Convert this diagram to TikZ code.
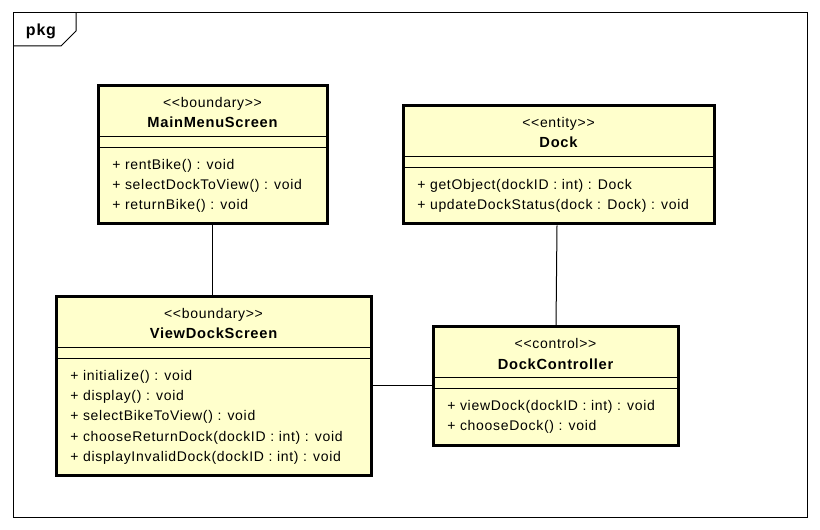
\documentclass[tikz,border=0pt]{standalone}
\usepackage{fontspec}
\newfontfamily\umlfont{Liberation Sans}[LetterSpace=5]
\usetikzlibrary{fit,calc}
\definecolor{classfill}{HTML}{FFFFCC}
\tikzset{
  classbox/.style={rectangle, draw=black, line width=2.25pt, fill=classfill, inner sep=0pt},
  divider/.style={draw=black, line width=0.75pt},
  umltext/.style={inner sep=0pt, text=black, font=\umlfont\fontsize{10.5pt}{12pt}\selectfont},
  stereotype/.style={umltext, anchor=base},
  classname/.style={umltext, anchor=base, font=\umlfont\fontsize{11pt}{12pt}\selectfont\bfseries},
  operation/.style={umltext, anchor=base west},
  link/.style={draw=black, line width=0.75pt},
  frameline/.style={draw=black, line width=0.75pt},
}
% #1 node name, #2 left, #3 top, #4 width, #5 number of operations,
% #6 stereotype, #7 class name, #8 operations
\newcommand{\umlclass}[8]{%
  \pgfmathsetmacro{\umlbottom}{#3+98+20*(#5-1)}
  \node[classbox, fit={(#2,#3) (#2+#4,\umlbottom)}] (#1) {};
  \draw[divider] (#2,#3+51) -- ++(#4,0);
  \draw[divider] (#2,#3+62) -- ++(#4,0);
  \node[stereotype] (#1-stereo) at (#2+#4/2,#3+22) {<<#6>>};
  \node[classname] (#1-name) at (#2+#4/2,#3+42) {#7};
  \foreach \op [count=\k from 0] in {#8} {
    \node[operation] (#1-op\k) at (#2+14,#3+84+20*\k) {\op};
  }
}
\begin{document}
\begin{tikzpicture}[x=0.75pt,y=-0.75pt]
  \useasboundingbox (0,0) rectangle (820,530);
  \fill[white] (0,0) rectangle (820,530);

  % package frame with its name tab
  \node[frameline, rectangle, inner sep=0pt, fit={(13,13) (807,517)}] (pkgframe) {};
  \draw[frameline] (13,46) -- (61,46) -- (76,31) -- (76,13);
  \node[classname, font=\umlfont\fontsize{12pt}{14pt}\selectfont\bfseries] (pkglabel) at (41,36) {pkg};

  % classes
  \umlclass{mms}{98}{86}{229}{3}{boundary}{MainMenuScreen}%
    {+ rentBike() : void, + selectDockToView() : void, + returnBike() : void}
  \umlclass{dock}{403}{106}{311}{2}{entity}{Dock}%
    {+ getObject(dockID : int) : Dock, + updateDockStatus(dock : Dock) : void}
  \umlclass{vds}{56}{297}{315}{5}{boundary}{ViewDockScreen}%
    {+ initialize() : void, + display() : void, + selectBikeToView() : void,
     + chooseReturnDock(dockID : int) : void, + displayInvalidDock(dockID : int) : void}
  \umlclass{dc}{433}{327}{245}{2}{control}{DockController}%
    {+ viewDock(dockID : int) : void, + chooseDock() : void}

  % associations
  \draw[link] (mms.south) -- (mms.south |- vds.north);
  \draw[link] ($(dock.south)+(-1.5,0)$) -- ($(dc.north)+(0.5,0)$);
  \draw[link] (vds.east) -- (vds.east -| dc.west);
\end{tikzpicture}
\end{document}
